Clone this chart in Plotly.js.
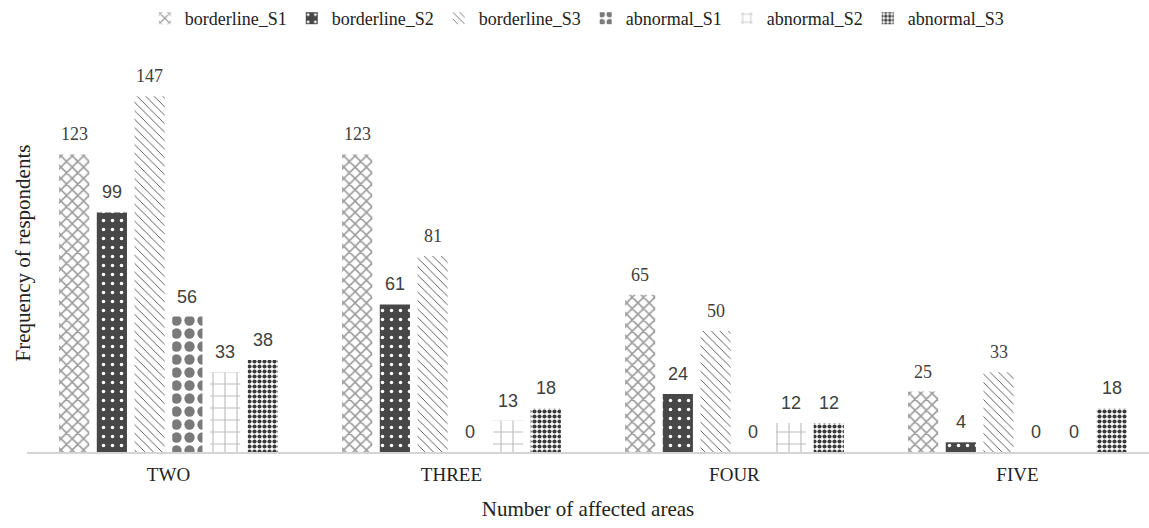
<!DOCTYPE html>
<html>
<head>
<meta charset="utf-8">
<script src="https://cdn.plot.ly/plotly-3.0.1.min.js"></script>
<style>html,body{margin:0;padding:0;background:#fff;}#chart{width:1149px;height:528px;}</style>
</head>
<body>
<div id="chart"></div>
<script>
const categories = ["TWO", "THREE", "FOUR", "FIVE"];
const seriesNames = ["borderline_S1", "borderline_S2", "borderline_S3", "abnormal_S1", "abnormal_S2", "abnormal_S3"];
const borderline_S1 = [123, 123, 65, 25];
const borderline_S2 = [99, 61, 24, 4];
const borderline_S3 = [147, 81, 50, 33];
const abnormal_S1 = [56, 0, 0, 0];
const abnormal_S2 = [33, 13, 12, 0];
const abnormal_S3 = [38, 18, 12, 18];
const seriesValues = [borderline_S1, borderline_S2, borderline_S3, abnormal_S1, abnormal_S2, abnormal_S3];

const styles = [
  {shape: "x", fg: "#9a9a9a", bg: "#ffffff", size: 8, solidity: 0.35, labelFont: "Liberation Serif"},
  {shape: ".", fg: "#ffffff", bg: "#474747", size: 9, solidity: 0.12, labelFont: "Liberation Sans"},
  {shape: "\\", fg: "#222222", bg: "#ffffff", size: 6, solidity: 0.12, labelFont: "Liberation Serif"},
  {shape: ".", fg: "#7a7a7a", bg: "#ffffff", size: 13, solidity: 0.5, labelFont: "Liberation Sans"},
  {shape: "+", fg: "#bdbdbd", bg: "#ffffff", size: 12, solidity: 0.18, labelFont: "Liberation Sans"},
  {shape: ".", fg: "#3a3a3a", bg: "#ffffff", size: 5, solidity: 0.55, labelFont: "Liberation Sans"}
];

const xIdx = categories.map((c, i) => i);
const nSeries = seriesNames.length;
const bargap = 0.2;
const slot = (1 - bargap) / nSeries;

const traces = seriesNames.map((name, j) => ({
  type: "bar",
  name: name,
  x: xIdx,
  y: seriesValues[j],
  marker: {
    color: styles[j].bg,
    line: {width: 0},
    pattern: {shape: styles[j].shape, fgcolor: styles[j].fg, bgcolor: styles[j].bg, size: styles[j].size, solidity: styles[j].solidity, fillmode: "replace"}
  },
  hoverinfo: "x+y+name"
}));

const annotations = [];
seriesNames.forEach((name, j) => {
  seriesValues[j].forEach((v, i) => {
    annotations.push({
      x: i - (1 - bargap) / 2 + (j + 0.5) * slot,
      y: v,
      xref: "x", yref: "y",
      text: String(v),
      showarrow: false,
      yanchor: "bottom",
      yshift: 8,
      font: {family: styles[j].labelFont, size: 18, color: "#404040"}
    });
  });
});

annotations.push({
  text: "Frequency of respondents",
  xref: "paper", yref: "paper",
  x: -0.004, y: 0.5, xanchor: "center", yanchor: "middle",
  textangle: -90, showarrow: false,
  font: {family: "Liberation Serif", size: 21, color: "#222"}
});

const layout = {
  width: 1149, height: 528,
  margin: {l: 27, r: 0, t: 50, b: 76},
  paper_bgcolor: "#ffffff", plot_bgcolor: "#ffffff",
  barmode: "group",
  bargap: bargap,
  bargroupgap: 0.2,
  showlegend: true,
  legend: {
    orientation: "h", x: 0.49, xanchor: "center", y: 1.09, yanchor: "middle",
    font: {family: "Liberation Serif", size: 18, color: "#222"},
    itemwidth: 30, tracegroupgap: 0
  },
  xaxis: {
    tickmode: "array", tickvals: xIdx, ticktext: categories,
    range: [-0.5, 3.465],
    showline: true, linecolor: "#d4d4d4", linewidth: 2,
    showgrid: false, zeroline: false,
    ticks: "outside", ticklen: 4, tickcolor: "rgba(0,0,0,0)",
    tickfont: {family: "Liberation Serif", size: 19, color: "#222"},
    title: {text: "Number of affected areas", font: {family: "Liberation Serif", size: 21, color: "#222"}, standoff: 18},
    automargin: false, fixedrange: true
  },
  yaxis: {
    range: [0, 164.5],
    showticklabels: false, showgrid: false, zeroline: false, showline: false, ticks: "",
    automargin: false, fixedrange: true
  },
  annotations: annotations
};

Plotly.newPlot("chart", traces, layout, {displayModeBar: false, staticPlot: true});
</script>
</body>
</html>
